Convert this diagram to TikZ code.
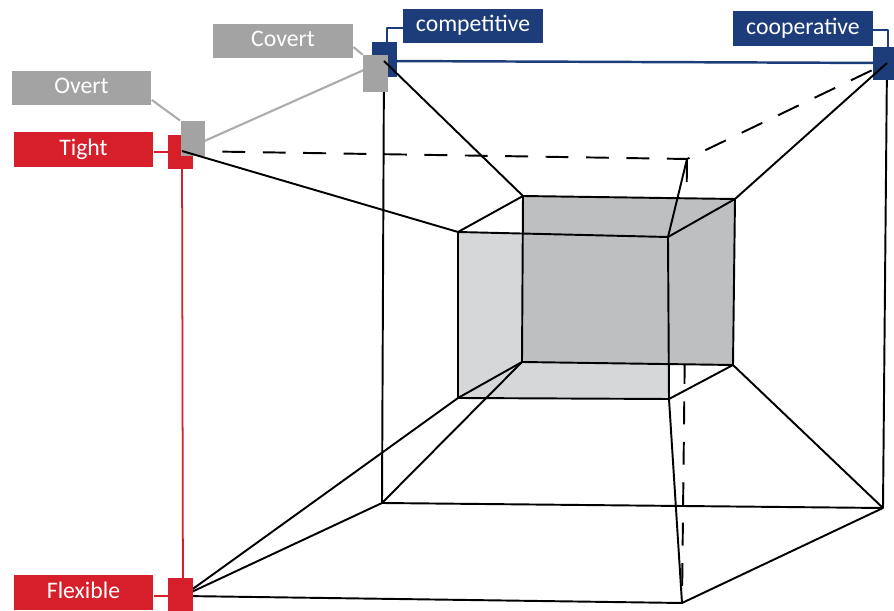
\documentclass[tikz,border=0pt]{standalone}
\usepackage{fontspec}
\setmainfont{Carlito}
\usetikzlibrary{calc}
\definecolor{tred}{RGB}{214,31,42}
\definecolor{tnavy}{RGB}{28,61,122}
\definecolor{tgray}{RGB}{163,163,163}
\definecolor{tgrayline}{RGB}{172,172,172}
\definecolor{facedark}{RGB}{190,191,193}
\definecolor{facelight}{RGB}{214,215,217}
\newcommand{\lblfont}{\fontsize{13.5}{16}\selectfont}
\tikzset{
  lbl/.style={minimum width=2.8cm, minimum height=0.7cm, inner sep=0pt,
              text=white, font=\lblfont, text height=9.5pt, text depth=3pt},
  sqr/.style={minimum width=0.5cm, minimum height=0.7cm, inner sep=0pt},
  edge/.style={line width=1.1pt, black},
  hidden/.style={edge, dash pattern=on 13pt off 10pt},
  redline/.style={line width=1pt, tred},
  navyline/.style={line width=1.4pt, tnavy},
  grayline/.style={line width=1.2pt, tgrayline},
}
\begin{document}
\begin{tikzpicture}[x=0.02cm, y=-0.02cm, line join=round]
\useasboundingbox (0,0) rectangle (894,611);

% outer cube
\coordinate (A) at (182,151);
\coordinate (B) at (384,61);
\coordinate (C) at (887,63);
\coordinate (D) at (687,159);
\coordinate (E) at (183,596);
\coordinate (F) at (382,503);
\coordinate (G) at (883,508);
\coordinate (H) at (682,603);
% inner cube
\coordinate (a) at (458,232);
\coordinate (b) at (523,196);
\coordinate (c) at (735,199);
\coordinate (d) at (668,237);
\coordinate (e) at (458,398);
\coordinate (f) at (522,362);
\coordinate (g) at (733,365);
\coordinate (h) at (669,399);

% hidden vertical edge, partly behind the inner cube
\draw[hidden] (D) -- (H);

% inner cube faces
\fill[facelight] (a) -- (d) -- (h) -- (e) -- cycle;
\fill[facedark] (b) -- (c) -- (g) -- (f) -- cycle;

% hidden top edges
\draw[hidden] (A) -- (D) -- (C);

% outer cube edges
\draw[grayline] (A) -- (B);
\draw[navyline] (B) -- (C);
\draw[redline] (A) -- (E);
\draw[edge] (B) -- (F);
\draw[edge] (C) -- (G);
\draw[edge] (E) -- (F) -- (G) -- (H) -- (E);

% inner cube edges
\draw[edge] (a) -- (d) -- (h) -- (e) -- cycle;
\draw[edge] (b) -- (c) -- (g) -- (f) -- cycle;
\draw[edge] (a) -- (b) (d) -- (c) (e) -- (f) (h) -- (g);

% links between the cubes
\draw[edge] (D) -- (d);
\draw[edge] (E) -- (e);
\draw[edge] (F) -- (f);
\draw[edge] (G) -- (g);
\draw[edge] (H) -- (h);

% corner markers
\node[sqr, fill=tred] (tsq) at (180.5,152) {};
\node[sqr, fill=tgray] (osq) at (193,138.5) {};
\node[sqr, fill=tnavy] (csq) at (384.5,59.5) {};
\node[sqr, fill=tgray, minimum height=0.74cm] (vsq) at (375.5,73.5) {};
\node[sqr, fill=tnavy, minimum width=0.52cm, minimum height=0.66cm] (psq) at (886,63.5) {};
\node[sqr, fill=tred, minimum height=0.66cm] (fsq) at (180.5,594.5) {};

% links drawn over the markers
\draw[edge] (A) -- (a);
\draw[edge] (B) -- (b);
\draw[edge] (C) -- (c);

% labels
\node[lbl, fill=tgray] (covert) at (283,41) {Covert};
\node[lbl, fill=tgray] (overt) at (81.5,88) {Overt};
\node[lbl, fill=tred] (tight) at (83.5,149.5) {Tight};
\node[lbl, fill=tred] (flex) at (83.5,592.5) {Flexible};
\node[lbl, fill=tnavy] (comp) at (473,26) {competitive};
\node[lbl, fill=tnavy] (coop) at (803,28.5) {cooperative};

% label leaders
\draw[grayline] ([yshift=-3.4pt]covert.east) -- (vsq.north west);
\draw[grayline] ([yshift=-6.8pt]overt.east) -- (osq.north west);
\draw[redline] ([yshift=-1.4pt]tight.east) -- ([yshift=-1.4pt]tight.east -| tsq.west);
\draw[redline] ([yshift=-2pt]flex.east) -- ([yshift=-2pt]flex.east -| fsq.west);
\draw[line width=1pt, tnavy] ([yshift=-1pt]comp.west) -| ([xshift=1.4pt]csq.north);
\draw[line width=1pt, tnavy] ([yshift=-1pt]coop.east) -| ([xshift=1pt]psq.north);
\end{tikzpicture}
\end{document}
